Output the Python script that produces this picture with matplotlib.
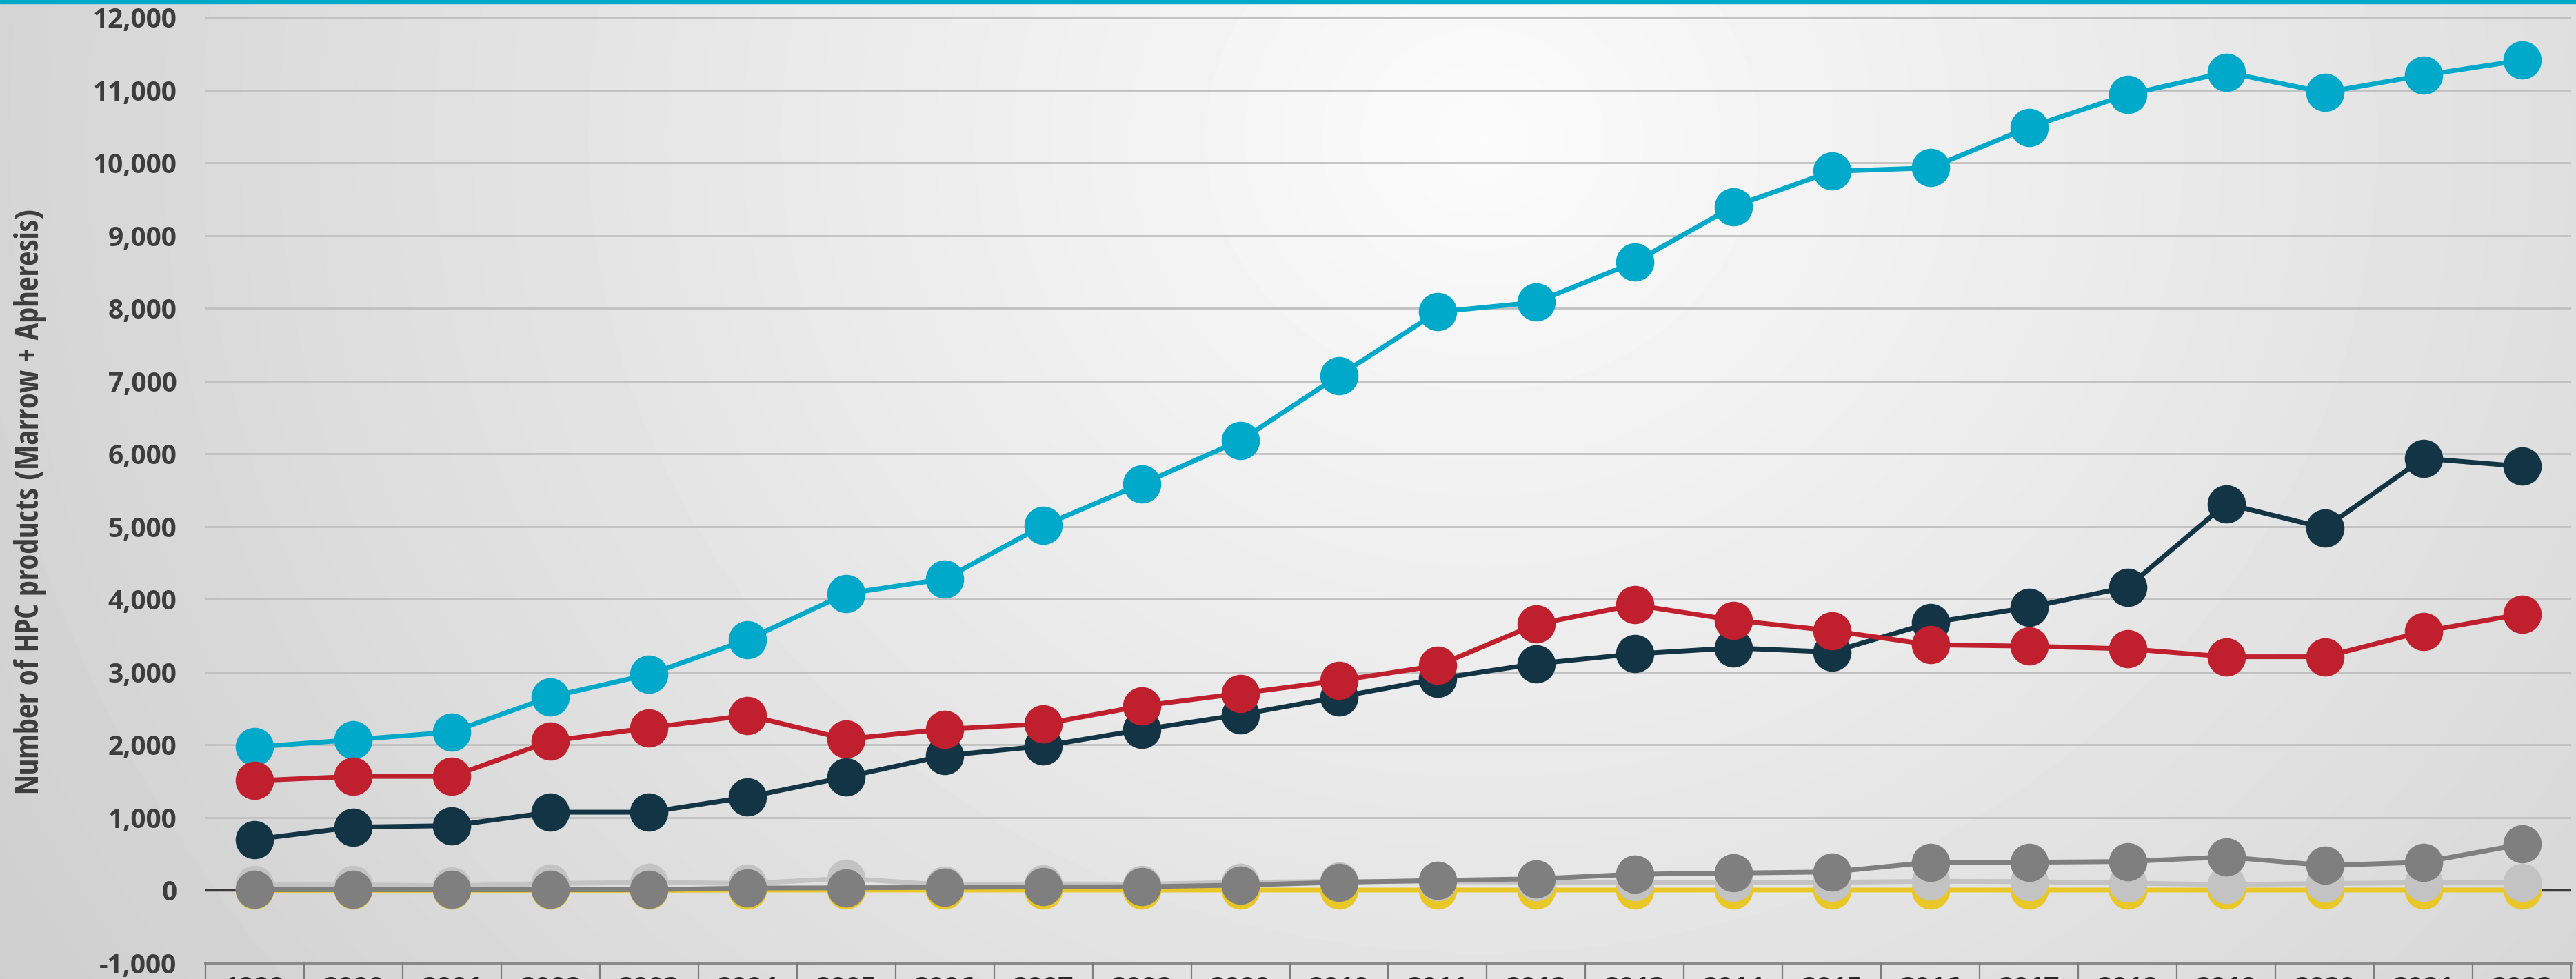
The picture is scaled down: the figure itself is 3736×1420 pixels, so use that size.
import numpy as np
import matplotlib
matplotlib.use("Agg")
import matplotlib.pyplot as plt
from matplotlib.ticker import FuncFormatter
from matplotlib.patches import Rectangle
from matplotlib import font_manager
from matplotlib.font_manager import FontProperties

# ---------------- data ----------------
years = list(range(1999, 2023))
cyan_vals = [1972, 2071, 2177, 2661, 2969, 3449, 4079, 4283, 5016, 5590, 6186, 7078,
             7953, 8085, 8638, 9400, 9886, 9933, 10491, 10939, 11248, 10970, 11206, 11412]
navy_vals = [700, 870, 890, 1075, 1075, 1283, 1559, 1854, 1984, 2210, 2416, 2659,
             2910, 3116, 3251, 3333, 3277, 3679, 3891, 4170, 5315, 4982, 5939, 5830]
red_vals = [1508, 1567, 1567, 2051, 2236, 2406, 2079, 2217, 2287, 2536, 2708, 2884,
            3090, 3659, 3925, 3715, 3570, 3376, 3358, 3321, 3212, 3212, 3558, 3800]
dgray_vals = [10, 10, 10, 10, 10, 32, 35, 41, 48, 50, 73, 111,
              137, 159, 222, 238, 254, 387, 387, 397, 460, 343, 387, 635]
lgray_vals = [79, 79, 63, 95, 111, 95, 165, 75, 90, 85, 110, 125,
              120, 115, 115, 111, 111, 125, 120, 100, 80, 95, 105, 111]
yellow_vals = [0, 0, 0, 0, 0, 5, 5, 5, 5, 5, 5, 5,
               5, 5, 5, 5, 5, 5, 5, 5, 5, 5, 5, 5]
y_ticks = list(range(-1000, 12001, 1000))
y_title = "Number of HPC products (Marrow + Apheresis)"

# ---------------- figure ----------------
W, H, DPI = 3737, 1420, 100
fig = plt.figure(figsize=(W / DPI, H / DPI), dpi=DPI)

# background radial gradient
bg = fig.add_axes([0, 0, 1, 1], zorder=-10)
yy, xx = np.mgrid[0:H:4, 0:W:4]
d = np.sqrt(((xx - 2150) / 1650.0) ** 2 + ((yy - 200) / 1500.0) ** 2)
g = np.clip(0.985 - 0.115 * d, 0.80, 1.0)
bg.imshow(g, cmap="gray", vmin=0, vmax=1, extent=[0, 1, 0, 1], aspect="auto",
          interpolation="bilinear")
bg.set_axis_off()

# top cyan band
fig.patches.append(Rectangle((0, 1 - 5 / H), 1, 5 / H, transform=fig.transFigure,
                             color="#00A9C9", zorder=5))

left, right, top, bottom = 298, 3729, 25.4, 1397
ax = fig.add_axes([left / W, 1 - bottom / H, (right - left) / W, (bottom - top) / H])
ax.set_facecolor("none")
for s in ax.spines.values():
    s.set_visible(False)

x = np.arange(len(years))
ax.set_xlim(-0.5, len(years) - 0.5)
ax.set_ylim(-1000, 12000)
ax.set_xticks([])
ax.set_yticks(y_ticks)
ax.yaxis.set_major_formatter(FuncFormatter(lambda v, p: f"{int(v):,}"))
ax.tick_params(axis="y", length=0, pad=30, labelsize=28, labelcolor="#3d3d3d")
for lab in ax.get_yticklabels():
    lab.set_fontweight("bold")
    lab.set_family(["Open Sans", "DejaVu Sans"])

# gridlines
for v in y_ticks[1:]:
    ax.axhline(v, color="#c0c0c0", lw=2.0, zorder=0.5)
ax.axhline(0, color="#3a3a3a", lw=2.5, zorder=0.8)

# series
series = [
    (yellow_vals, "#E8C726", 1),
    (lgray_vals, "#C3C3C3", 2),
    (dgray_vals, "#7F7F7F", 3),
    (cyan_vals, "#00A9C9", 4),
    (navy_vals, "#123444", 5),
    (red_vals, "#C01F2D", 6),
]
for vals, col, z in series:
    ax.plot(x, vals, color=col, lw=5, marker="o", ms=40, mec="none",
            zorder=z, solid_capstyle="round")

# data table header (years) below the plot
ax.plot([-0.5, len(years) - 0.5], [-1000, -1000], color="#8a8a8a", lw=3.5,
        clip_on=False, zorder=7)
for i in range(len(years) + 1):
    ax.plot([i - 0.5, i - 0.5], [-1000, -1500], color="#7d7d7d", lw=1.6,
            clip_on=False, zorder=7)
for i, yr in enumerate(years):
    ax.text(i, -1455, str(yr), ha="center", va="baseline", fontsize=28,
            fontweight="bold", color="#262626", family=["Open Sans", "DejaVu Sans"],
            clip_on=False)

# y-axis title: prefer a condensed bold face, fitted to the reference length
cond = None
for f in font_manager.fontManager.ttflist:
    nm = (f.name + " " + str(f.fname)).lower()
    isbold = (isinstance(f.weight, int) and f.weight >= 600) or str(f.weight).lower() in ("bold", "semibold", "demibold")
    if isbold and ("narrow" in nm or "condensed" in nm or f.stretch in ("condensed", "semi-condensed")):
        if not f.fname.lower().endswith((".ttf", ".otf")):
            continue
        cond = f.fname
        if "liberation" in nm or "opensans" in nm.replace(" ", ""):
            break
if cond:
    fp = FontProperties(fname=cond, size=28)
else:
    fp = FontProperties(family=["Open Sans", "DejaVu Sans"], weight="bold", size=28)
t = fig.text(44 / W, 1 - 728 / H, y_title, rotation=90, ha="center", va="center",
             color="#3d3d3d", fontproperties=fp)
fig.canvas.draw()
bb = t.get_window_extent(renderer=fig.canvas.get_renderer())
t.set_fontsize(28 * 852.0 / bb.height)

fig.savefig("out.png", dpi=DPI)
